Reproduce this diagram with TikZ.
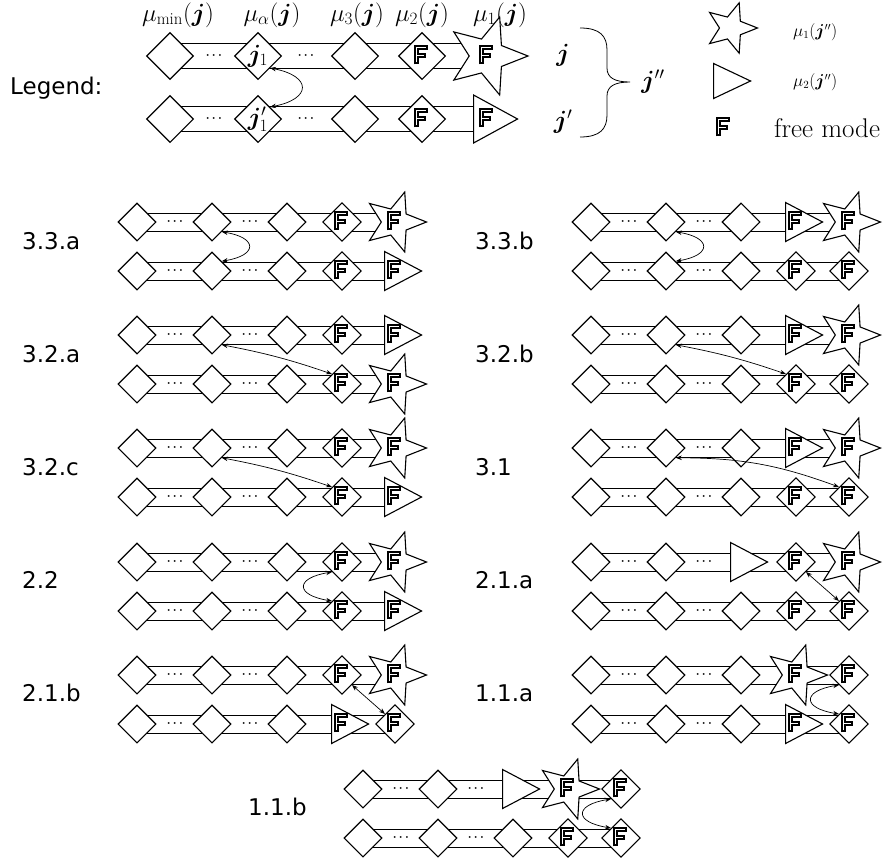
\documentclass[tikz,border=0pt]{standalone}
\usepackage{amsmath,bm}
\usepackage{fontspec}
\usetikzlibrary{shapes.geometric,arrows.meta,backgrounds}
\newfontfamily\dvs{DejaVu Sans}
\newcommand{\fF}{\tikz[baseline=0pt,x=1pt,y=1pt]{%
  \draw[line width=5.4pt, line join=miter] (0,-1) -- (0,15.5) -- (11.5,15.5) (0,8) -- (9.5,8);
  \draw[white, line width=1pt, line join=miter] (0,1) -- (0,15.5) -- (9.6,15.5) (0,8) -- (7.6,8);}}
\newcommand{\shpD}[3]{\node[dia] (#1) at (#2,#3) {};}
\newcommand{\shpDF}[3]{\node[dia] (#1) at (#2,#3) {\fF};}
\newcommand{\shpT}[3]{\node[tri] (#1) at (#2-11,#3) {};}
\newcommand{\shpTF}[3]{\node[tri] (#1) at (#2-11,#3) {};\node[fmk] (#1f) at (#2,#3) {\fF};}
\newcommand{\shpS}[3]{\node[str] (#1) at (#2,#3) {};}
\newcommand{\shpSF}[3]{\node[str] (#1) at (#2,#3) {};\node[fmk] (#1f) at (#2,#3) {\fF};}
\newcommand{\prow}[6]{%
 \shpD{#1a}{#2+137}{#3}
 \shpD{#1b}{#2+212}{#3}
 \csname shp#4\endcsname{#1c}{#2+287}{#3}
 \csname shp#5\endcsname{#1d}{#2+342}{#3}
 \csname shp#6\endcsname{#1e}{#2+395}{#3}
 \node[dotn] (#1u) at (#2+176,#3) {$\cdots$};
 \node[dotn] (#1v) at (#2+251,#3) {$\cdots$};
 \begin{pgfonlayer}{background}
 \draw[bandline] ([yshift=9pt]#1a.center) -- ([yshift=9pt]#1e.center);
 \draw[bandline] ([yshift=-9pt]#1a.center) -- ([yshift=-9pt]#1e.center);
 \end{pgfonlayer}
}
\tikzset{
 dia/.style={diamond, draw, fill=white, line width=1.1pt, minimum size=38pt, inner sep=0pt},
 tri/.style={isosceles triangle, isosceles triangle stretches, draw, fill=white, line width=1.1pt, minimum width=39pt, minimum height=37pt, inner sep=0pt, anchor=lower side},
 str/.style={star, star points=5, star point ratio=2.3, shape border rotate=-18, draw, fill=white, line width=1.1pt, minimum size=63pt, inner sep=0pt},
 ldia/.style={dia, minimum size=47pt},
 ltri/.style={tri, minimum width=48pt, minimum height=44pt},
 lstr/.style={str, minimum size=82pt},
 fmk/.style={inner sep=0pt},
 dotn/.style={inner sep=0pt, font=\fontsize{11.5}{11.5}\selectfont\boldmath},
 bandline/.style={line width=0.9pt},
 arr/.style={line width=0.7pt, {Stealth[length=6pt,width=4.5pt]}-{Stealth[length=6pt,width=4.5pt]}},
 plabel/.style={anchor=west, font=\dvs\fontsize{23}{23}\selectfont, inner sep=0pt},
 mlab/.style={anchor=base, inner sep=0pt, font=\fontsize{24}{24}\selectfont},
 slab/.style={anchor=west, inner sep=0pt, font=\fontsize{16}{16}\selectfont},
}
\begin{document}
\begin{tikzpicture}[x=1pt,y=1pt]
\useasboundingbox (0,0) rectangle (891,-865);
% ---------------- legend ----------------
\node[plabel] (leg) at (10,-88) {Legend:};
\node[mlab] (m1) at (178,-21) {$\mu_{\min}(\bm{j})$};
\node[mlab] (m2) at (272,-21) {$\mu_{\alpha}(\bm{j})$};
\node[mlab] (m3) at (357,-21) {$\mu_{3}(\bm{j})$};
\node[mlab] (m4) at (422,-21) {$\mu_{2}(\bm{j})$};
\node[mlab] (m5) at (500,-21) {$\mu_{1}(\bm{j})$};
\node[ldia] (Lta) at (170,-56) {};
\node[ldia] (Ltb) at (258,-56) {};
\node[ldia] (Ltc) at (355,-56) {};
\node[ldia] (Ltd) at (422,-56) {\fF};
\node[lstr] (Lte) at (487,-56) {};
\node[fmk] (Ltef) at (487,-56) {\fF};
\node[ldia] (Lba) at (170,-119) {};
\node[ldia] (Lbb) at (258,-119) {};
\node[ldia] (Lbc) at (355,-119) {};
\node[ldia] (Lbd) at (422,-119) {\fF};
\node[ltri] (Lbe) at (473,-119) {};
\node[fmk] (Lbef) at (487,-119) {\fF};
\node[inner sep=0pt, font=\fontsize{24}{24}\selectfont] (Ltbj) at (Ltb) {$\bm{j}_1$};
\node[inner sep=0pt, font=\fontsize{24}{24}\selectfont] (Lbbj) at (Lbb) {$\bm{j}'_1$};
\node[dotn] (Ltu) at (215,-56) {$\cdots$};
\node[dotn] (Ltv) at (307,-56) {$\cdots$};
\node[dotn] (Lbu) at (215,-119) {$\cdots$};
\node[dotn] (Lbv) at (307,-119) {$\cdots$};
\begin{pgfonlayer}{background}
\foreach \r in {Lt,Lb}{
 \draw[bandline] ([yshift=12.5pt]\r a.center) -- ([yshift=12.5pt]\r e.center);
 \draw[bandline] ([yshift=-12.5pt]\r a.center) -- ([yshift=-12.5pt]\r e.center);
}
\end{pgfonlayer}
\draw[arr] (Ltb.south east) .. controls +(42,-8) and +(42,8) .. (Lbb.north east);
% j labels and brace
\node[font=\fontsize{24}{24}\selectfont] (jj) at (563,-55) {$\bm{j}$};
\node[font=\fontsize{24}{24}\selectfont] (jp) at (563,-122) {$\bm{j}'$};
\node[font=\fontsize{24}{24}\selectfont] (jpp) at (653,-82) {$\bm{j}''$};
\coordinate (bt) at (580,-28);
\coordinate (bb) at (580,-137);
\coordinate (btip) at (630,-82);
\draw[line width=0.8pt] (bt) .. controls (600,-28) and (607,-36) .. (607,-50) -- (607,-68)
  .. controls (607,-78) and (615,-82) .. (btip)
  .. controls (615,-82) and (607,-86) .. (607,-96) -- (607,-115)
  .. controls (607,-129) and (600,-137) .. (bb);
\node[str, minimum size=53pt] (kst) at (731,-28) {};
\node[slab] (kstl) at (793,-32) {$\mu_1(\bm{j}'')$};
\node[tri, minimum width=35pt, minimum height=37pt] (ktr) at (713,-81) {};
\node[slab] (ktrl) at (793,-82) {$\mu_2(\bm{j}'')$};
\node[fmk] (kf) at (724,-128) {\fF};
\node[anchor=west, inner sep=0pt, font=\fontsize{27}{27}\selectfont] (kfl) at (774,-128) {free mode};
% ---------------- panels ----------------
\prow{Pa}{0}{-222}{D}{DF}{SF}
\prow{Pb}{0}{-271}{D}{DF}{TF}
\draw[arr] (Pab.south east) .. controls +(36,-6) and +(36,6) .. (Pbb.north east);
\node[plabel] (l1) at (22,-241) {3.3.a};
\prow{Qa}{454}{-222}{D}{TF}{SF}
\prow{Qb}{454}{-271}{D}{DF}{DF}
\draw[arr] (Qab.south east) .. controls +(36,-6) and +(36,6) .. (Qbb.north east);
\node[plabel] (l2) at (475,-241) {3.3.b};
\prow{Ra}{0}{-335}{D}{DF}{TF}
\prow{Rb}{0}{-384}{D}{DF}{SF}
\draw[arr] (Rab.south east) to[bend left=4] (Rbd.north west);
\node[plabel] (l3) at (22,-354) {3.2.a};
\prow{Sa}{454}{-335}{D}{TF}{SF}
\prow{Sb}{454}{-384}{D}{DF}{DF}
\draw[arr] (Sab.south east) to[bend left=4] (Sbd.north west);
\node[plabel] (l4) at (475,-354) {3.2.b};
\prow{Ta}{0}{-448}{D}{DF}{SF}
\prow{Tb}{0}{-497}{D}{DF}{TF}
\draw[arr] (Tab.south east) to[bend left=4] (Tbd.north west);
\node[plabel] (l5) at (22,-467) {3.2.c};
\prow{Ua}{454}{-448}{D}{TF}{SF}
\prow{Ub}{454}{-497}{D}{DF}{DF}
\draw[arr] (Uab.south east) to[bend left=10] (Ube.north west);
\node[plabel] (l6) at (475,-467) {3.1};
\prow{Va}{0}{-562}{D}{DF}{SF}
\prow{Vb}{0}{-611}{D}{DF}{TF}
\draw[arr] (Vad.south west) .. controls +(-37,-6) and +(-37,6) .. (Vbd.north west);
\node[plabel] (l7) at (22,-580) {2.2};
\prow{Wa}{454}{-562}{T}{DF}{SF}
\prow{Wb}{454}{-611}{D}{DF}{DF}
\draw[arr] (Wad.south east) -- (Wbe.north west);
\node[plabel] (l8) at (475,-580) {2.1.a};
\prow{Xa}{0}{-675}{D}{DF}{SF}
\prow{Xb}{0}{-724}{D}{TF}{DF}
\draw[arr] (Xad.south east) -- (Xbe.north west);
\node[plabel] (l9) at (22,-693) {2.1.b};
\prow{Ya}{454}{-675}{D}{SF}{DF}
\prow{Yb}{454}{-724}{D}{TF}{DF}
\draw[arr] (Yae.south west) .. controls +(-37,-6) and +(-37,6) .. (Ybe.north west);
\node[plabel] (l10) at (475,-693) {1.1.a};
\prow{Za}{226}{-789}{T}{SF}{DF}
\prow{Zb}{226}{-838}{D}{DF}{DF}
\draw[arr] (Zae.south west) .. controls +(-37,-6) and +(-37,6) .. (Zbe.north west);
\node[plabel] (l11) at (248,-807) {1.1.b};
\end{tikzpicture}
\end{document}
